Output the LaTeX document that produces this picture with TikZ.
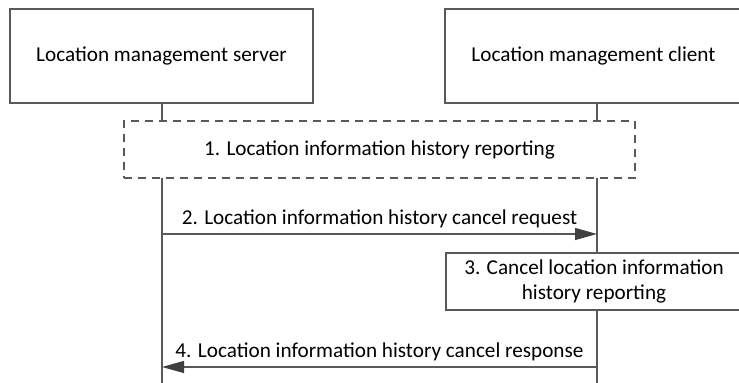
\documentclass[tikz,border=0pt]{standalone}
\usepackage{fontspec}
\setmainfont{Carlito}
\usepackage{xcolor}
\usepackage{tikz}
\usetikzlibrary{arrows.meta, positioning}

\definecolor{linegray}{HTML}{595959}
\definecolor{tipgray}{HTML}{404040}

\begin{document}
\begin{tikzpicture}[x=0.5pt, y=-0.5pt, font=\fontsize{10.6}{12.6}\selectfont,
    entity/.style={draw=linegray, line width=0.6pt, minimum height=47pt, inner sep=0pt},
    group/.style={draw=linegray, dashed, dash pattern=on 4pt off 3pt, line width=0.6pt,
        minimum width=255.5pt, minimum height=28.5pt, inner sep=0pt},
    action/.style={draw=linegray, line width=0.6pt, minimum width=148pt,
        minimum height=28.5pt, align=center, inner sep=0pt},
    life/.style={draw=linegray, line width=0.6pt},
    msg/.style={draw=linegray, line width=0.6pt,
        -{Triangle[length=11pt, width=6pt, color=tipgray]}}]
    \useasboundingbox (0,0) rectangle (739,383);

    % 1. Hai thực thể
    \node[entity, minimum width=151.5pt] (lms) at (161.5,56) {Location management server};
    \node[entity, minimum width=148.5pt] (lmc) at (593.5,56) {Location management client};

    % 2. Khối thủ tục nét đứt và khối xử lý
    \node[group] (hist) at (379.5,149.5) {1. Location information history reporting};
    \node[action] (cancel) at (594,281.5) {3. Cancel location information\\history reporting};

    % 3. Các điểm trên đường đời
    \coordinate (s0) at (162,103);  \coordinate (c0) at (597,103);
    \coordinate (s1) at (162,121);  \coordinate (c1) at (597,121);
    \coordinate (s2) at (162,178);  \coordinate (c2) at (597,178);
    \coordinate (s3) at (162,234);  \coordinate (c3) at (597,234);
    \coordinate (c4) at (597,253);  \coordinate (c5) at (597,310);
    \coordinate (s6) at (162,367);  \coordinate (c6) at (597,367);
    \coordinate (s7) at (162,383);  \coordinate (c7) at (597,383);

    % 4. Đường đời
    \draw[life] (s0) -- (s1);
    \draw[life] (c0) -- (c1);
    \draw[life] (s2) -- (s7);
    \draw[life] (c2) -- (c4);
    \draw[life] (c5) -- (c7);

    % 5. Các thông điệp
    \draw[msg] (s3) -- node[above=-0.5pt] (req) {2. Location information history cancel request} (c3);
    \draw[msg] (c6) -- node[above=-0.5pt] (resp) {4. Location information history cancel response} (s6);
\end{tikzpicture}
\end{document}
